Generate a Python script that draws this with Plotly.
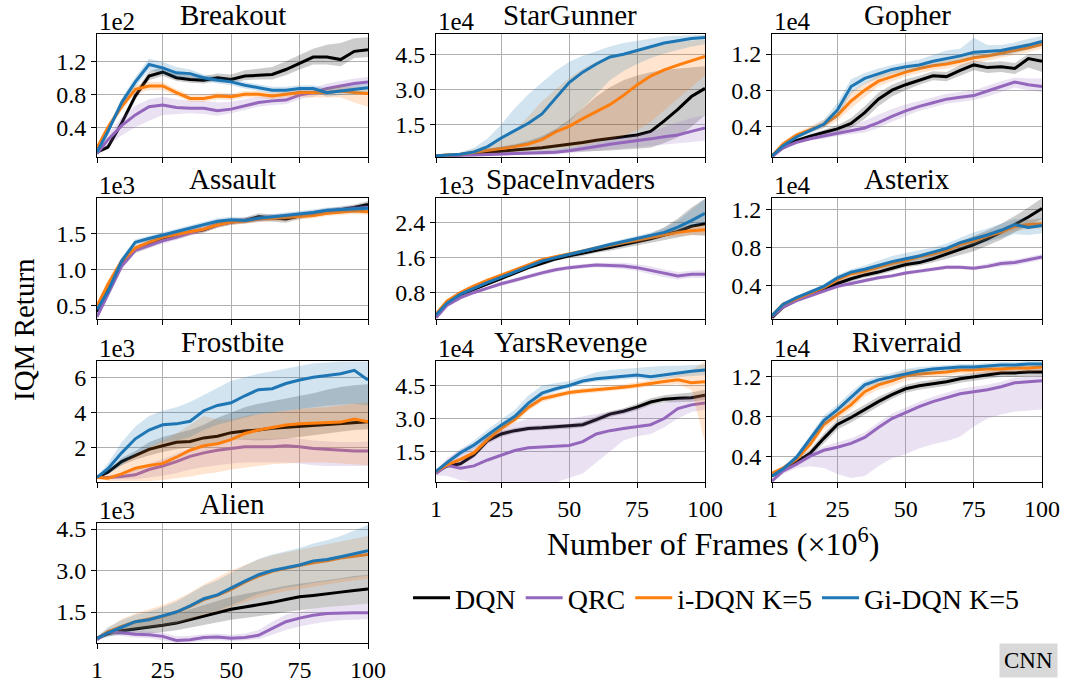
import plotly.graph_objects as go

# ---------------- data (values in units of the panel's scale) ----------------
FRAMES = [1, 5, 10, 15, 20, 25, 30, 35, 40, 45, 50, 55, 60, 65, 70, 75, 80, 85, 90, 95, 100]
X_TICKS = [1, 25, 50, 75, 100]
METHODS = ["DQN", "QRC", "i-DQN K=5", "Gi-DQN K=5"]
COLORS = ["#000000", "#9467bd", "#ff7f0e", "#1f77b4"]
FILLS = ["rgba(0,0,0,0.2)", "rgba(148,103,189,0.2)", "rgba(255,127,14,0.2)", "rgba(31,119,180,0.2)"]

# Breakout (1e2)
B_DQN = [0.10,0.16,0.45,0.78,1.02,1.07,1.00,0.98,0.97,1.00,0.98,1.02,1.03,1.04,1.10,1.18,1.25,1.25,1.22,1.32,1.34]
B_DQN_LO = [0.08,0.13,0.41,0.73,0.97,1.02,0.96,0.94,0.93,0.96,0.94,0.97,0.98,0.98,1.03,1.10,1.16,1.16,1.14,1.24,1.25]
B_DQN_HI = [0.12,0.19,0.49,0.83,1.08,1.13,1.05,1.03,1.02,1.05,1.04,1.09,1.11,1.13,1.20,1.28,1.35,1.40,1.42,1.48,1.49]
B_QRC = [0.08,0.25,0.42,0.55,0.65,0.67,0.64,0.63,0.63,0.60,0.62,0.66,0.70,0.72,0.73,0.79,0.82,0.87,0.90,0.93,0.95]
B_QRC_LO = [0.06,0.18,0.30,0.40,0.48,0.55,0.56,0.57,0.56,0.54,0.57,0.61,0.65,0.67,0.68,0.74,0.77,0.82,0.85,0.87,0.88]
B_QRC_HI = [0.10,0.32,0.52,0.66,0.74,0.77,0.74,0.72,0.72,0.70,0.71,0.74,0.77,0.79,0.80,0.85,0.88,0.93,0.96,0.99,1.01]
B_IDQN = [0.15,0.40,0.65,0.86,0.90,0.90,0.82,0.75,0.75,0.78,0.77,0.80,0.80,0.78,0.80,0.82,0.82,0.82,0.84,0.82,0.81]
B_IDQN_LO = [0.13,0.36,0.60,0.81,0.85,0.85,0.78,0.71,0.71,0.74,0.73,0.76,0.76,0.74,0.76,0.77,0.76,0.76,0.76,0.70,0.65]
B_IDQN_HI = [0.17,0.44,0.70,0.91,0.95,0.95,0.86,0.79,0.79,0.82,0.81,0.84,0.84,0.82,0.84,0.87,0.87,0.87,0.90,0.89,0.89]
B_GIDQN = [0.10,0.35,0.70,0.95,1.16,1.12,1.06,1.05,1.00,0.97,0.95,0.91,0.88,0.85,0.85,0.87,0.87,0.82,0.84,0.86,0.88]
B_GIDQN_LO = [0.08,0.31,0.65,0.89,1.09,1.05,1.00,1.00,0.96,0.93,0.91,0.87,0.84,0.81,0.81,0.83,0.83,0.77,0.79,0.81,0.83]
B_GIDQN_HI = [0.12,0.39,0.75,1.01,1.23,1.19,1.13,1.10,1.04,1.01,0.99,0.95,0.92,0.89,0.89,0.91,0.91,0.87,0.89,0.91,0.93]

# StarGunner (1e4)
S_DQN = [0.15,0.16,0.20,0.25,0.30,0.33,0.38,0.43,0.50,0.57,0.63,0.72,0.82,0.90,0.97,1.05,1.20,1.65,2.15,2.70,3.05]
S_DQN_LO = [0.14,0.14,0.16,0.18,0.20,0.20,0.22,0.24,0.26,0.28,0.30,0.33,0.36,0.38,0.40,0.45,0.50,0.70,0.95,1.40,1.90]
S_DQN_HI = [0.16,0.18,0.25,0.35,0.45,0.55,0.65,0.80,1.00,1.30,1.70,2.20,2.70,3.10,3.40,3.60,3.75,3.85,3.90,3.95,4.00]
S_QRC = [0.15,0.15,0.17,0.19,0.21,0.22,0.24,0.25,0.26,0.30,0.37,0.45,0.55,0.65,0.72,0.80,0.88,0.97,1.05,1.20,1.35]
S_QRC_LO = [0.14,0.14,0.15,0.16,0.17,0.17,0.18,0.18,0.19,0.21,0.25,0.30,0.36,0.42,0.47,0.52,0.57,0.62,0.68,0.74,0.80]
S_QRC_HI = [0.16,0.16,0.19,0.22,0.25,0.27,0.30,0.32,0.35,0.40,0.50,0.60,0.72,0.85,0.95,1.05,1.20,1.40,1.60,1.78,1.90]
S_IDQN = [0.15,0.17,0.22,0.30,0.38,0.46,0.55,0.66,0.85,1.18,1.42,1.75,2.05,2.35,2.75,3.20,3.58,3.85,4.05,4.25,4.43]
S_IDQN_LO = [0.14,0.15,0.18,0.22,0.26,0.30,0.33,0.37,0.42,0.48,0.55,0.62,0.72,0.85,1.00,1.25,1.60,2.10,2.60,3.10,3.60]
S_IDQN_HI = [0.16,0.20,0.28,0.42,0.60,0.85,1.25,1.85,2.50,3.00,3.50,3.90,4.20,4.40,4.55,4.70,4.85,4.95,5.05,5.10,5.15]
S_GIDQN = [0.15,0.17,0.22,0.32,0.55,0.92,1.25,1.55,1.95,2.65,3.30,3.75,4.10,4.40,4.52,4.68,4.85,5.00,5.10,5.20,5.24]
S_GIDQN_LO = [0.14,0.15,0.18,0.22,0.32,0.45,0.55,0.70,0.90,1.20,1.60,2.20,2.80,3.40,3.80,4.10,4.35,4.55,4.70,4.85,4.95]
S_GIDQN_HI = [0.16,0.20,0.30,0.50,0.90,1.50,2.20,2.80,3.30,3.80,4.20,4.45,4.65,4.85,5.00,5.10,5.20,5.28,5.32,5.35,5.36]

# Gopher (1e4)
G_DQN = [0.07,0.16,0.24,0.29,0.33,0.37,0.43,0.55,0.70,0.80,0.86,0.91,0.96,0.95,1.02,1.08,1.05,1.06,1.04,1.15,1.12]
G_DQN_LO = [0.06,0.14,0.22,0.27,0.30,0.33,0.38,0.48,0.62,0.73,0.80,0.86,0.91,0.90,0.96,1.02,0.99,1.00,0.98,1.05,1.00]
G_DQN_HI = [0.08,0.18,0.26,0.31,0.36,0.41,0.49,0.62,0.77,0.86,0.92,0.96,1.01,1.00,1.08,1.13,1.11,1.12,1.10,1.20,1.20]
G_QRC = [0.06,0.16,0.22,0.26,0.29,0.32,0.35,0.38,0.44,0.51,0.57,0.62,0.66,0.70,0.72,0.74,0.79,0.84,0.89,0.86,0.84]
G_QRC_LO = [0.05,0.14,0.20,0.24,0.26,0.29,0.31,0.33,0.38,0.45,0.51,0.57,0.61,0.65,0.67,0.69,0.73,0.78,0.83,0.80,0.78]
G_QRC_HI = [0.07,0.18,0.24,0.28,0.32,0.36,0.41,0.46,0.53,0.59,0.64,0.68,0.72,0.76,0.78,0.80,0.85,0.90,0.94,0.93,0.93]
G_IDQN = [0.07,0.20,0.30,0.36,0.42,0.52,0.68,0.80,0.90,0.95,1.00,1.04,1.07,1.09,1.12,1.16,1.18,1.21,1.24,1.27,1.31]
G_IDQN_LO = [0.06,0.18,0.27,0.33,0.38,0.46,0.60,0.72,0.84,0.90,0.95,0.99,1.02,1.04,1.07,1.11,1.13,1.16,1.19,1.22,1.26]
G_IDQN_HI = [0.08,0.23,0.33,0.40,0.47,0.60,0.78,0.88,0.97,1.01,1.05,1.09,1.12,1.14,1.17,1.22,1.24,1.26,1.29,1.32,1.36]
G_GIDQN = [0.07,0.18,0.28,0.35,0.42,0.58,0.84,0.93,0.98,1.03,1.06,1.08,1.12,1.15,1.18,1.22,1.23,1.24,1.27,1.30,1.34]
G_GIDQN_LO = [0.06,0.16,0.26,0.32,0.38,0.50,0.76,0.87,0.93,0.98,1.01,1.03,1.07,1.10,1.13,1.16,1.17,1.18,1.21,1.25,1.29]
G_GIDQN_HI = [0.08,0.20,0.30,0.38,0.47,0.66,0.92,0.99,1.04,1.08,1.11,1.14,1.19,1.24,1.26,1.38,1.30,1.30,1.33,1.37,1.40]

# Assault (1e3)
A_DQN = [0.42,0.72,1.08,1.28,1.35,1.42,1.46,1.52,1.55,1.62,1.66,1.68,1.73,1.72,1.70,1.74,1.77,1.80,1.82,1.86,1.90]
A_DQN_LO = [0.39,0.67,1.02,1.23,1.31,1.38,1.42,1.48,1.51,1.58,1.62,1.64,1.68,1.67,1.65,1.70,1.73,1.76,1.78,1.82,1.86]
A_DQN_HI = [0.45,0.77,1.14,1.33,1.39,1.46,1.50,1.56,1.59,1.66,1.70,1.72,1.78,1.77,1.75,1.78,1.81,1.84,1.86,1.90,1.95]
A_QRC = [0.35,0.66,1.05,1.27,1.34,1.40,1.45,1.50,1.56,1.62,1.66,1.68,1.70,1.72,1.73,1.76,1.78,1.81,1.83,1.84,1.86]
A_QRC_LO = [0.32,0.61,1.00,1.23,1.30,1.36,1.41,1.46,1.52,1.58,1.62,1.64,1.66,1.68,1.69,1.72,1.74,1.77,1.79,1.80,1.82]
A_QRC_HI = [0.38,0.71,1.10,1.31,1.38,1.44,1.49,1.54,1.60,1.66,1.70,1.72,1.74,1.76,1.77,1.80,1.82,1.85,1.87,1.88,1.90]
A_IDQN = [0.50,0.80,1.12,1.30,1.38,1.45,1.49,1.52,1.56,1.62,1.66,1.67,1.70,1.71,1.72,1.73,1.75,1.78,1.80,1.81,1.80]
A_IDQN_LO = [0.47,0.75,1.07,1.26,1.34,1.41,1.45,1.48,1.52,1.58,1.62,1.63,1.66,1.67,1.68,1.69,1.71,1.74,1.76,1.77,1.76]
A_IDQN_HI = [0.53,0.85,1.17,1.34,1.42,1.49,1.53,1.56,1.60,1.66,1.70,1.71,1.74,1.75,1.76,1.77,1.79,1.82,1.84,1.85,1.84]
A_GIDQN = [0.45,0.70,1.12,1.38,1.43,1.48,1.53,1.58,1.63,1.67,1.69,1.68,1.71,1.73,1.74,1.76,1.79,1.82,1.83,1.83,1.85]
A_GIDQN_LO = [0.42,0.65,1.07,1.34,1.39,1.44,1.49,1.54,1.59,1.63,1.65,1.64,1.67,1.69,1.70,1.72,1.75,1.78,1.79,1.79,1.81]
A_GIDQN_HI = [0.48,0.75,1.17,1.42,1.47,1.52,1.57,1.62,1.67,1.71,1.73,1.72,1.75,1.77,1.78,1.80,1.83,1.86,1.87,1.87,1.89]

# SpaceInvaders (1e3)
SI_DQN = [0.28,0.55,0.75,0.88,1.00,1.12,1.25,1.37,1.47,1.57,1.64,1.70,1.77,1.83,1.90,1.96,2.03,2.12,2.20,2.32,2.38]
SI_DQN_LO = [0.26,0.52,0.71,0.84,0.96,1.08,1.21,1.33,1.42,1.52,1.59,1.64,1.71,1.76,1.82,1.87,1.93,2.00,2.06,2.12,2.10]
SI_DQN_HI = [0.30,0.58,0.79,0.92,1.04,1.16,1.29,1.42,1.52,1.62,1.69,1.76,1.83,1.90,1.98,2.06,2.15,2.30,2.50,2.75,2.95]
SI_QRC = [0.22,0.50,0.68,0.80,0.90,1.00,1.08,1.17,1.25,1.32,1.37,1.40,1.43,1.42,1.41,1.37,1.31,1.24,1.18,1.22,1.22]
SI_QRC_LO = [0.20,0.47,0.64,0.76,0.86,0.95,1.03,1.12,1.20,1.27,1.32,1.35,1.38,1.36,1.34,1.29,1.22,1.15,1.10,1.14,1.13]
SI_QRC_HI = [0.24,0.53,0.72,0.84,0.94,1.05,1.13,1.22,1.30,1.37,1.42,1.45,1.48,1.48,1.48,1.45,1.40,1.33,1.27,1.30,1.31]
SI_IDQN = [0.30,0.60,0.80,0.95,1.08,1.20,1.32,1.44,1.55,1.62,1.68,1.75,1.82,1.88,1.95,2.00,2.06,2.13,2.18,2.22,2.24]
SI_IDQN_LO = [0.28,0.57,0.76,0.91,1.04,1.16,1.28,1.40,1.51,1.58,1.64,1.71,1.78,1.84,1.90,1.94,2.00,2.06,2.09,2.12,2.12]
SI_IDQN_HI = [0.32,0.63,0.84,0.99,1.12,1.24,1.36,1.48,1.59,1.66,1.72,1.79,1.86,1.92,2.00,2.06,2.12,2.20,2.28,2.32,2.36]
SI_GIDQN = [0.28,0.55,0.76,0.90,1.03,1.15,1.27,1.40,1.52,1.60,1.67,1.74,1.82,1.90,1.97,2.03,2.10,2.18,2.30,2.45,2.62]
SI_GIDQN_LO = [0.26,0.52,0.72,0.86,0.99,1.11,1.23,1.36,1.48,1.56,1.62,1.69,1.77,1.84,1.91,1.96,2.02,2.09,2.18,2.30,2.40]
SI_GIDQN_HI = [0.30,0.58,0.80,0.94,1.07,1.19,1.31,1.44,1.56,1.64,1.72,1.79,1.87,1.96,2.03,2.10,2.18,2.28,2.45,2.70,2.95]

# Asterix (1e4)
AX_DQN = [0.06,0.17,0.25,0.30,0.35,0.42,0.47,0.51,0.54,0.58,0.62,0.64,0.68,0.73,0.78,0.83,0.89,0.96,1.04,1.12,1.21]
AX_DQN_LO = [0.05,0.15,0.23,0.28,0.33,0.39,0.44,0.48,0.51,0.55,0.59,0.61,0.64,0.68,0.72,0.76,0.82,0.88,0.96,1.03,1.10]
AX_DQN_HI = [0.07,0.19,0.27,0.32,0.37,0.45,0.50,0.54,0.57,0.61,0.65,0.68,0.73,0.79,0.86,0.92,0.98,1.05,1.13,1.22,1.32]
AX_QRC = [0.07,0.17,0.24,0.29,0.34,0.39,0.42,0.45,0.48,0.50,0.53,0.55,0.57,0.59,0.59,0.58,0.60,0.63,0.64,0.67,0.70]
AX_QRC_LO = [0.06,0.15,0.22,0.27,0.32,0.37,0.40,0.43,0.46,0.48,0.51,0.53,0.55,0.57,0.57,0.56,0.58,0.60,0.61,0.64,0.67]
AX_QRC_HI = [0.08,0.19,0.26,0.31,0.36,0.41,0.44,0.47,0.50,0.52,0.55,0.57,0.59,0.61,0.61,0.60,0.63,0.66,0.67,0.70,0.73]
AX_IDQN = [0.08,0.20,0.26,0.32,0.38,0.46,0.52,0.55,0.59,0.63,0.66,0.70,0.73,0.77,0.83,0.87,0.92,0.96,1.02,1.04,1.05]
AX_IDQN_LO = [0.07,0.18,0.24,0.30,0.36,0.43,0.49,0.52,0.56,0.60,0.63,0.67,0.70,0.74,0.79,0.83,0.88,0.92,0.97,0.99,1.00]
AX_IDQN_HI = [0.09,0.22,0.28,0.34,0.40,0.49,0.55,0.58,0.62,0.66,0.69,0.73,0.76,0.80,0.87,0.91,0.96,1.00,1.07,1.09,1.10]
AX_GIDQN = [0.08,0.20,0.27,0.33,0.39,0.48,0.54,0.57,0.61,0.65,0.68,0.71,0.75,0.79,0.85,0.89,0.93,0.98,1.04,1.01,1.03]
AX_GIDQN_LO = [0.07,0.18,0.25,0.31,0.37,0.45,0.51,0.54,0.57,0.60,0.63,0.66,0.70,0.74,0.79,0.82,0.86,0.90,0.94,0.93,0.95]
AX_GIDQN_HI = [0.09,0.22,0.29,0.35,0.41,0.51,0.57,0.61,0.66,0.71,0.74,0.77,0.80,0.84,0.90,0.96,1.00,1.05,1.10,1.09,1.11]

# Frostbite (1e3)
F_DQN = [0.30,0.60,1.20,1.55,1.90,2.10,2.30,2.35,2.55,2.65,2.85,2.95,3.00,3.10,3.15,3.20,3.25,3.30,3.35,3.40,3.47]
F_DQN_LO = [0.28,0.50,1.00,1.30,1.55,1.75,1.90,2.00,2.10,2.20,2.45,2.45,2.40,2.45,2.50,2.60,2.70,2.80,2.90,3.00,3.05]
F_DQN_HI = [0.32,0.70,1.40,1.80,2.30,2.60,2.80,3.00,3.30,3.70,4.00,4.30,4.50,4.65,4.80,4.95,5.10,5.30,5.45,5.55,5.60]
F_QRC = [0.30,0.30,0.35,0.45,0.75,0.95,1.20,1.50,1.70,1.85,1.95,2.05,2.05,2.05,2.10,2.05,1.95,1.90,1.85,1.80,1.80]
F_QRC_LO = [0.28,0.20,0.20,0.20,0.30,0.40,0.55,0.75,0.90,1.00,1.10,1.15,1.15,1.15,1.15,1.10,1.00,0.95,0.95,0.95,0.95]
F_QRC_HI = [0.32,0.40,0.55,0.75,1.10,1.35,1.65,1.95,2.15,2.30,2.40,2.50,2.50,2.50,2.55,2.50,2.40,2.35,2.30,2.30,2.35]
F_IDQN = [0.30,0.25,0.50,0.82,0.98,1.10,1.45,1.85,2.10,2.22,2.45,2.80,3.00,3.12,3.28,3.35,3.38,3.40,3.45,3.62,3.47]
F_IDQN_LO = [0.28,0.10,0.10,0.10,0.10,0.15,0.25,0.35,0.50,0.60,0.75,0.85,0.95,1.05,1.10,1.15,1.15,1.15,1.10,1.05,1.00]
F_IDQN_HI = [0.32,0.50,1.10,1.60,2.00,2.40,2.80,3.30,3.80,3.60,3.60,3.80,3.90,4.00,4.10,4.20,4.25,4.30,4.40,4.50,4.60]
F_GIDQN = [0.30,0.80,1.70,2.50,3.00,3.30,3.35,3.50,4.10,4.40,4.55,4.95,5.30,5.35,5.65,5.85,6.00,6.10,6.20,6.40,5.85]
F_GIDQN_LO = [0.28,0.50,1.00,1.60,2.00,2.30,2.40,2.60,3.00,3.30,3.50,3.70,3.90,4.00,4.10,4.20,4.30,4.40,4.45,4.50,4.40]
F_GIDQN_HI = [0.32,1.10,2.30,3.20,3.80,4.10,4.30,4.60,5.00,5.40,5.80,6.00,6.20,6.35,6.50,6.65,6.80,6.85,6.90,6.90,6.90]

# YarsRevenge (1e4)
Y_DQN = [0.55,0.85,0.95,1.35,2.00,2.30,2.45,2.55,2.58,2.62,2.65,2.72,2.95,3.20,3.33,3.52,3.75,3.88,3.92,3.94,4.06]
Y_DQN_LO = [0.50,0.78,0.86,1.22,1.85,2.17,2.33,2.44,2.47,2.51,2.54,2.60,2.82,3.07,3.20,3.38,3.60,3.73,3.76,3.76,3.85]
Y_DQN_HI = [0.60,0.92,1.04,1.48,2.15,2.43,2.57,2.66,2.69,2.73,2.76,2.85,3.08,3.33,3.47,3.67,3.92,4.06,4.12,4.18,4.30]
Y_QRC = [0.50,0.88,0.75,0.85,1.12,1.35,1.55,1.67,1.72,1.74,1.78,1.95,2.30,2.45,2.55,2.62,2.72,3.00,3.45,3.62,3.70]
Y_QRC_LO = [0.40,0.40,0.20,0.10,0.10,0.10,0.10,0.10,0.10,0.10,0.30,0.50,1.00,1.50,2.00,2.20,2.30,2.60,3.00,3.30,3.40]
Y_QRC_HI = [0.60,1.20,1.60,1.90,2.20,2.50,2.80,3.00,3.00,3.00,3.00,3.10,3.20,3.30,3.40,3.50,3.60,3.70,3.90,4.00,4.10]
Y_IDQN = [0.60,0.90,1.15,1.45,2.05,2.55,2.95,3.50,3.90,4.05,4.18,4.25,4.30,4.35,4.42,4.50,4.60,4.68,4.76,4.62,4.67]
Y_IDQN_LO = [0.55,0.82,1.05,1.33,1.90,2.40,2.80,3.35,3.75,3.92,4.06,4.13,4.18,4.23,4.30,4.37,4.46,4.52,4.56,4.30,1.90]
Y_IDQN_HI = [0.65,0.98,1.25,1.57,2.20,2.70,3.10,3.65,4.05,4.18,4.30,4.37,4.42,4.47,4.55,4.65,4.76,4.86,4.98,5.20,5.60]
Y_GIDQN = [0.60,1.00,1.45,1.80,2.25,2.70,3.10,3.70,4.15,4.35,4.50,4.70,4.80,4.85,4.90,4.97,4.90,4.98,5.08,5.14,5.20]
Y_GIDQN_LO = [0.55,0.90,1.30,1.62,2.05,2.52,2.92,3.52,4.00,4.22,4.38,4.58,4.68,4.72,4.76,4.82,4.74,4.80,4.88,4.92,4.96]
Y_GIDQN_HI = [0.65,1.10,1.60,2.00,2.50,2.95,3.40,4.05,4.50,4.60,4.70,4.90,5.10,5.20,5.25,5.30,5.35,5.40,5.40,5.42,5.45]

# Riverraid (1e4)
R_DQN = [0.20,0.27,0.34,0.43,0.58,0.72,0.79,0.87,0.95,1.02,1.08,1.11,1.13,1.15,1.18,1.20,1.22,1.24,1.24,1.25,1.25]
R_DQN_LO = [0.19,0.25,0.31,0.39,0.53,0.67,0.74,0.82,0.90,0.98,1.04,1.07,1.09,1.11,1.14,1.16,1.18,1.20,1.20,1.21,1.21]
R_DQN_HI = [0.21,0.29,0.37,0.47,0.63,0.77,0.84,0.92,1.00,1.06,1.12,1.15,1.17,1.19,1.22,1.24,1.26,1.28,1.28,1.29,1.29]
R_QRC = [0.15,0.25,0.32,0.40,0.46,0.49,0.53,0.59,0.69,0.78,0.84,0.90,0.95,0.99,1.03,1.05,1.07,1.10,1.14,1.15,1.16]
R_QRC_LO = [0.14,0.22,0.28,0.30,0.28,0.22,0.18,0.20,0.30,0.38,0.42,0.48,0.52,0.55,0.60,0.70,0.78,0.82,0.85,0.86,0.87]
R_QRC_HI = [0.16,0.28,0.35,0.44,0.50,0.54,0.58,0.64,0.74,0.83,0.89,0.95,1.00,1.04,1.08,1.10,1.12,1.15,1.19,1.20,1.21]
R_IDQN = [0.23,0.28,0.37,0.52,0.72,0.82,0.92,1.05,1.12,1.16,1.21,1.23,1.24,1.25,1.27,1.27,1.28,1.28,1.29,1.29,1.30]
R_IDQN_LO = [0.22,0.26,0.34,0.48,0.67,0.77,0.87,1.00,1.07,1.11,1.16,1.18,1.20,1.21,1.23,1.23,1.24,1.24,1.25,1.25,1.26]
R_IDQN_HI = [0.24,0.30,0.40,0.56,0.77,0.87,0.97,1.10,1.17,1.22,1.27,1.28,1.28,1.29,1.31,1.31,1.32,1.32,1.33,1.33,1.34]
R_GIDQN = [0.20,0.27,0.39,0.57,0.76,0.87,1.00,1.12,1.17,1.20,1.23,1.26,1.28,1.29,1.30,1.30,1.31,1.32,1.32,1.33,1.33]
R_GIDQN_LO = [0.19,0.25,0.36,0.53,0.71,0.82,0.95,1.08,1.13,1.16,1.19,1.21,1.24,1.26,1.27,1.27,1.28,1.29,1.29,1.30,1.30]
R_GIDQN_HI = [0.21,0.29,0.42,0.61,0.81,0.92,1.05,1.16,1.21,1.24,1.28,1.30,1.31,1.32,1.33,1.33,1.34,1.35,1.35,1.36,1.36]

# Alien (1e3)
AL_DQN = [0.55,0.72,0.82,0.88,0.94,1.02,1.10,1.22,1.35,1.48,1.60,1.68,1.76,1.85,1.95,2.05,2.10,2.17,2.22,2.28,2.33]
AL_DQN_LO = [0.50,0.62,0.68,0.70,0.72,0.78,0.84,0.93,1.03,1.13,1.22,1.28,1.34,1.42,1.50,1.58,1.62,1.68,1.72,1.77,1.80]
AL_DQN_HI = [0.60,0.85,1.00,1.10,1.20,1.32,1.45,1.60,1.75,1.90,2.05,2.15,2.25,2.35,2.45,2.52,2.58,2.65,2.72,2.80,2.85]
AL_QRC = [0.50,0.78,0.75,0.70,0.68,0.62,0.47,0.50,0.58,0.60,0.55,0.58,0.66,0.90,1.15,1.28,1.38,1.45,1.47,1.47,1.47]
AL_QRC_LO = [0.45,0.70,0.65,0.58,0.55,0.48,0.38,0.40,0.46,0.48,0.45,0.48,0.52,0.68,0.85,0.98,1.08,1.15,1.20,1.22,1.24]
AL_QRC_HI = [0.55,0.86,0.85,0.82,0.80,0.76,0.62,0.64,0.70,0.72,0.68,0.72,0.85,1.15,1.40,1.52,1.62,1.68,1.72,1.76,1.80]
AL_IDQN = [0.55,0.78,0.98,1.15,1.25,1.35,1.50,1.70,1.95,2.10,2.32,2.58,2.80,2.97,3.08,3.18,3.28,3.35,3.45,3.52,3.58]
AL_IDQN_LO = [0.50,0.65,0.78,0.88,0.92,0.98,1.08,1.22,1.40,1.52,1.68,1.85,2.02,2.15,2.25,2.35,2.42,2.50,2.58,2.65,2.70]
AL_IDQN_HI = [0.60,0.92,1.25,1.45,1.60,1.75,1.95,2.20,2.50,2.75,3.00,3.20,3.40,3.55,3.65,3.75,3.85,3.95,4.05,4.15,4.25]
AL_GIDQN = [0.55,0.75,0.95,1.15,1.22,1.35,1.50,1.72,1.98,2.12,2.38,2.62,2.85,3.00,3.10,3.20,3.35,3.40,3.50,3.62,3.72]
AL_GIDQN_LO = [0.50,0.60,0.72,0.85,0.90,0.98,1.08,1.25,1.45,1.55,1.75,1.95,2.15,2.28,2.38,2.45,2.55,2.60,2.68,2.75,2.82]
AL_GIDQN_HI = [0.60,0.95,1.20,1.40,1.52,1.68,1.88,2.15,2.45,2.65,2.92,3.18,3.42,3.58,3.70,3.82,3.98,4.10,4.25,4.45,4.65]

# panel: title, scale, row, col, y range, y ticks, series [(mean, lo, hi) per method]
PANELS = [
    ("Breakout", "1e2", 0, 0, [0.04, 1.53], [0.4, 0.8, 1.2],
     [(B_DQN, B_DQN_LO, B_DQN_HI), (B_QRC, B_QRC_LO, B_QRC_HI), (B_IDQN, B_IDQN_LO, B_IDQN_HI), (B_GIDQN, B_GIDQN_LO, B_GIDQN_HI)]),
    ("StarGunner", "1e4", 0, 1, [0.10, 5.39], [1.5, 3.0, 4.5],
     [(S_DQN, S_DQN_LO, S_DQN_HI), (S_QRC, S_QRC_LO, S_QRC_HI), (S_IDQN, S_IDQN_LO, S_IDQN_HI), (S_GIDQN, S_GIDQN_LO, S_GIDQN_HI)]),
    ("Gopher", "1e4", 0, 2, [0.058, 1.423], [0.4, 0.8, 1.2],
     [(G_DQN, G_DQN_LO, G_DQN_HI), (G_QRC, G_QRC_LO, G_QRC_HI), (G_IDQN, G_IDQN_LO, G_IDQN_HI), (G_GIDQN, G_GIDQN_LO, G_GIDQN_HI)]),
    ("Assault", "1e3", 1, 0, [0.32, 1.99], [0.5, 1.0, 1.5],
     [(A_DQN, A_DQN_LO, A_DQN_HI), (A_QRC, A_QRC_LO, A_QRC_HI), (A_IDQN, A_IDQN_LO, A_IDQN_HI), (A_GIDQN, A_GIDQN_LO, A_GIDQN_HI)]),
    ("SpaceInvaders", "1e3", 1, 1, [0.19, 2.97], [0.8, 1.6, 2.4],
     [(SI_DQN, SI_DQN_LO, SI_DQN_HI), (SI_QRC, SI_QRC_LO, SI_QRC_HI), (SI_IDQN, SI_IDQN_LO, SI_IDQN_HI), (SI_GIDQN, SI_GIDQN_LO, SI_GIDQN_HI)]),
    ("Asterix", "1e4", 1, 2, [0.046, 1.32], [0.4, 0.8, 1.2],
     [(AX_DQN, AX_DQN_LO, AX_DQN_HI), (AX_QRC, AX_QRC_LO, AX_QRC_HI), (AX_IDQN, AX_IDQN_LO, AX_IDQN_HI), (AX_GIDQN, AX_GIDQN_LO, AX_GIDQN_HI)]),
    ("Frostbite", "1e3", 2, 0, [0.04, 6.93], [2, 4, 6],
     [(F_DQN, F_DQN_LO, F_DQN_HI), (F_QRC, F_QRC_LO, F_QRC_HI), (F_IDQN, F_IDQN_LO, F_IDQN_HI), (F_GIDQN, F_GIDQN_LO, F_GIDQN_HI)]),
    ("YarsRevenge", "1e4", 2, 1, [0.12, 5.61], [1.5, 3.0, 4.5],
     [(Y_DQN, Y_DQN_LO, Y_DQN_HI), (Y_QRC, Y_QRC_LO, Y_QRC_HI), (Y_IDQN, Y_IDQN_LO, Y_IDQN_HI), (Y_GIDQN, Y_GIDQN_LO, Y_GIDQN_HI)]),
    ("Riverraid", "1e4", 2, 2, [0.14, 1.36], [0.4, 0.8, 1.2],
     [(R_DQN, R_DQN_LO, R_DQN_HI), (R_QRC, R_QRC_LO, R_QRC_HI), (R_IDQN, R_IDQN_LO, R_IDQN_HI), (R_GIDQN, R_GIDQN_LO, R_GIDQN_HI)]),
    ("Alien", "1e3", 3, 0, [0.38, 4.72], [1.5, 3.0, 4.5],
     [(AL_DQN, AL_DQN_LO, AL_DQN_HI), (AL_QRC, AL_QRC_LO, AL_QRC_HI), (AL_IDQN, AL_IDQN_LO, AL_IDQN_HI), (AL_GIDQN, AL_GIDQN_LO, AL_GIDQN_HI)]),
]
BOTTOM_PANELS = {"YarsRevenge", "Riverraid", "Alien"}

# ---------------- layout geometry (pixels) ----------------
W, H = 1068, 682
COL_PX = [(97, 368), (436, 705), (772, 1042)]
ROW_PX = [(34, 157), (198, 319), (361, 482), (523, 643)]
FONT = "Liberation Serif"
TICKFONT = dict(family=FONT, size=24, color="black")

def px_x(p):
    return p / W

def px_y(p):
    return 1 - p / H

fig = go.Figure()
layout = dict(
    template="none",
    width=W, height=H, margin=dict(l=0, r=0, t=0, b=0, autoexpand=False),
    paper_bgcolor="white", plot_bgcolor="white",
    font=dict(family=FONT, size=24, color="black"),
    showlegend=True,
)
annotations = []

for i, (title, scale, r, c, yr, yt, series) in enumerate(PANELS):
    k = "" if i == 0 else str(i + 1)
    xa, ya = "x" + k, "y" + k
    x0, x1 = COL_PX[c]
    y0, y1 = ROW_PX[r]
    common = dict(showline=True, mirror=True, linecolor="black", linewidth=1,
                  ticks="outside", ticklen=5, tickcolor="black", tickwidth=1,
                  showgrid=True, gridcolor="#b0b0b0", gridwidth=1, zeroline=False,
                  tickfont=TICKFONT, automargin=False)
    layout["xaxis" + k] = dict(common, domain=[px_x(x0), px_x(x1)], anchor=ya, range=[1, 100],
                               tickmode="array", tickvals=X_TICKS, ticktext=[str(v) for v in X_TICKS],
                               showticklabels=title in BOTTOM_PANELS)
    ttxt = [str(int(v)) if title == "Frostbite" else f"{v:.1f}" for v in yt]
    layout["yaxis" + k] = dict(common, domain=[px_y(y1), px_y(y0)], anchor=xa, range=yr,
                               tickmode="array", tickvals=yt, ticktext=ttxt)
    for m, (mean, lo, hi) in enumerate(series):
        fig.add_trace(go.Scatter(x=FRAMES, y=mean, mode="lines", name=METHODS[m],
                                 line=dict(color=COLORS[m], width=3), xaxis=xa, yaxis=ya,
                                 showlegend=(i == 0), legendrank=m + 1))
        fig.add_trace(go.Scatter(x=FRAMES + FRAMES[::-1], y=hi + lo[::-1], mode="lines",
                                 fill="toself", fillcolor=FILLS[m], line=dict(width=0),
                                 hoverinfo="skip", showlegend=False, xaxis=xa, yaxis=ya))
    annotations.append(dict(text=title, x=px_x((x0 + x1) / 2), y=px_y(y0), xref="paper", yref="paper",
                            xanchor="center", yanchor="bottom", yshift=1, showarrow=False,
                            font=dict(family=FONT, size=29, color="black")))
    annotations.append(dict(text=scale, x=px_x(x0), y=px_y(y0), xref="paper", yref="paper",
                            xanchor="left", yanchor="bottom", yshift=-3, showarrow=False,
                            font=dict(family=FONT, size=25, color="black")))

annotations.append(dict(text="IQM Return", x=px_x(24), y=px_y(330), xref="paper", yref="paper",
                        textangle=-90, showarrow=False, xanchor="center", yanchor="middle",
                        font=dict(family=FONT, size=29, color="black")))
annotations.append(dict(text="Number of Frames (×10<sup>6</sup>)", x=px_x(713), y=px_y(542),
                        xref="paper", yref="paper", showarrow=False, xanchor="center", yanchor="middle",
                        font=dict(family=FONT, size=32, color="black")))
annotations.append(dict(text="CNN", x=px_x(1028), y=px_y(660), xref="paper", yref="paper",
                        showarrow=False, xanchor="center", yanchor="middle", bgcolor="#d9d9d9",
                        borderpad=4, font=dict(family=FONT, size=23, color="black")))

layout["annotations"] = annotations
layout["legend"] = dict(orientation="h", x=px_x(408), y=px_y(598), xanchor="left", yanchor="middle",
                        font=dict(family=FONT, size=28, color="black"),
                        bgcolor="rgba(0,0,0,0)", borderwidth=0, itemwidth=37, traceorder="normal")
fig.update_layout(**layout)
fig.write_html("out.html")
